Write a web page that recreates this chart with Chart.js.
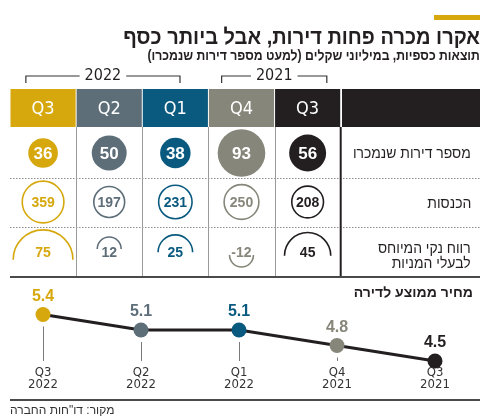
<!DOCTYPE html>
<html lang="he">
<head>
<meta charset="utf-8">
<script src="https://cdn.jsdelivr.net/npm/chart.js@4.4.1/dist/chart.umd.min.js"></script>
<style>
  html, body { margin: 0; padding: 0; background: #fff; }
  #wrap { position: relative; width: 490px; height: 420px; overflow: hidden;
          font-family: "Liberation Sans", "DejaVu Sans", sans-serif; color: #231f20; }
  #chart { position: absolute; left: 0; top: 0; }
  .txt { position: absolute; direction: rtl; white-space: nowrap; transform-origin: right center; }
  #accent { position: absolute; left: 434px; top: 15px; width: 46px; height: 5px; background: #d6a80e; }
  #title { right: 10px; top: 25px; font-size: 22px; line-height: 24px; font-weight: bold; transform: scaleX(0.91); }
  #subtitle { right: 10px; top: 47px; font-size: 14px; line-height: 16px; font-weight: bold; transform: scaleX(0.875); }
  .rowlab { right: 19px; font-size: 15px; line-height: 15px; text-align: right; transform: scaleX(0.93); }
  #pricelab { right: 17px; top: 284px; font-size: 14px; line-height: 16px; font-weight: bold; }
  #source { left: 10px; top: 403px; font-size: 12px; line-height: 14px; color: #333; }
</style>
</head>
<body>
<div id="wrap">
  <canvas id="chart" width="490" height="420"></canvas>
  <div id="accent"></div>
  <div class="txt" id="title">אקרו מכרה פחות דירות, אבל ביותר כסף</div>
  <div class="txt" id="subtitle">תוצאות כספיות, במיליוני שקלים (למעט מספר דירות שנמכרו)</div>
  <div class="txt rowlab" style="top:145px">מספר דירות שנמכרו</div>
  <div class="txt rowlab" style="top:195px">הכנסות</div>
  <div class="txt rowlab" style="top:240px">רווח נקי המיוחס<br>לבעלי המניות</div>
  <div class="txt" id="pricelab">מחיר ממוצע לדירה</div>
  <div class="txt" id="source">מקור: דו"חות החברה</div>
</div>
<script>
// data, newest quarter first (right-to-left reading puts Q3 2021 on the right)
const QUARTERS = ["Q3", "Q2", "Q1", "Q4", "Q3"];
const YEARS = ["2022", "2022", "2022", "2021", "2021"];
const APARTMENTS_SOLD = [36, 50, 38, 93, 56];
const REVENUE = [359, 197, 231, 250, 208];
const NET_PROFIT = [75, 12, 25, -12, 45];
const AVG_PRICE = [5.4, 5.1, 5.1, 4.8, 4.5];
const YEAR_LABELS = ["2022", "2021"];

const COLORS = ["#d6a80e", "#5e6e79", "#0a5a80", "#87867a", "#231f20"];

// layout
const W = 490, H = 420;
const COL_W = 66.14, COL_LEFT = 10;
const HEADER_TOP = 89, HEADER_BOTTOM = 127;
const ROW_APT = 153, ROW_REV = 202, ROW_PROFIT = 252;
const SEP_1 = 178, SEP_2 = 227, TABLE_BOTTOM = 277;
const LABEL_COL_LEFT = 342, RIGHT_EDGE = 480;
const BRACKETS = [[-0.26, 2.07], [2.7, 4.29]];   // in column units
const BRACKET_Y = 76;
const DROP_END = 361;

const NUM_FONT = '"Liberation Sans", "DejaVu Sans", sans-serif';
const NARROW_FONT = '"Liberation Sans Narrow", "DejaVu Sans Condensed", "Liberation Sans", sans-serif';

const aptRadius = (v) => 2.47 * Math.sqrt(v);
const revRadius = (v) => 1.1 * Math.sqrt(v);
const profitRadius = (v) => 3.45 * Math.sqrt(Math.abs(v));

const idx = QUARTERS.map((_, i) => i);
// keep only one tick per column so bar widths come out as full columns
const columnTicks = (scale) => { scale.ticks = idx.map((i) => ({ value: i })); };

const tablePlugin = {
    id: "tableDecor",
    beforeDatasetsDraw(chart) {
        const ctx = chart.ctx;
        const x = chart.scales.x;
        ctx.save();

        // label column header
        ctx.fillStyle = "#231f20";
        ctx.fillRect(LABEL_COL_LEFT, HEADER_TOP, RIGHT_EDGE - LABEL_COL_LEFT, HEADER_BOTTOM - HEADER_TOP);

        // dotted row separators
        ctx.strokeStyle = "#8c8c8c";
        ctx.lineWidth = 1;
        ctx.setLineDash([1.5, 1.5]);
        [SEP_1, SEP_2].forEach((y) => {
            ctx.beginPath();
            ctx.moveTo(COL_LEFT, y + 0.5);
            ctx.lineTo(RIGHT_EDGE, y + 0.5);
            ctx.stroke();
        });
        ctx.setLineDash([]);

        // column dividers
        ctx.strokeStyle = "#9a9a9a";
        for (let i = 0; i < QUARTERS.length - 1; i++) {
            const px = Math.round(x.getPixelForValue(i + 0.5)) + 0.5;
            ctx.beginPath();
            ctx.moveTo(px, HEADER_BOTTOM);
            ctx.lineTo(px, TABLE_BOTTOM);
            ctx.stroke();
        }
        ctx.strokeStyle = "#231f20";
        ctx.lineWidth = 2;
        const dv = x.getPixelForValue(QUARTERS.length - 0.5);
        ctx.beginPath();
        ctx.moveTo(dv, HEADER_BOTTOM);
        ctx.lineTo(dv, TABLE_BOTTOM);
        ctx.stroke();

        // table bottom + page bottom rules
        ctx.strokeStyle = "#4a4a4a";
        ctx.lineWidth = 2;
        [TABLE_BOTTOM, 400].forEach((y) => {
            ctx.beginPath();
            ctx.moveTo(COL_LEFT, y);
            ctx.lineTo(RIGHT_EDGE, y);
            ctx.stroke();
        });

        // year brackets
        ctx.strokeStyle = "#333";
        ctx.lineWidth = 1.2;
        ctx.fillStyle = "#231f20";
        ctx.font = "16px " + NARROW_FONT;
        ctx.textAlign = "center";
        ctx.textBaseline = "middle";
        BRACKETS.forEach(([a, b], k) => {
            const x0 = x.getPixelForValue(a), x1 = x.getPixelForValue(b);
            const mid = (x0 + x1) / 2;
            const half = ctx.measureText(YEAR_LABELS[k]).width / 2 + 5;
            ctx.beginPath();
            ctx.moveTo(x0, BRACKET_Y + 7);
            ctx.lineTo(x0, BRACKET_Y);
            ctx.lineTo(mid - half, BRACKET_Y);
            ctx.moveTo(mid + half, BRACKET_Y);
            ctx.lineTo(x1, BRACKET_Y);
            ctx.lineTo(x1, BRACKET_Y + 7);
            ctx.stroke();
            ctx.fillText(YEAR_LABELS[k], mid, BRACKET_Y);
        });

        // drop lines under the price points
        const pm = chart.getDatasetMeta(4);
        ctx.strokeStyle = "#7a7a7a";
        ctx.lineWidth = 1;
        pm.data.forEach((pt) => {
            const top = pt.y + 12;
            if (DROP_END - top > 2) {
                ctx.beginPath();
                ctx.moveTo(Math.round(pt.x) + 0.5, top);
                ctx.lineTo(Math.round(pt.x) + 0.5, DROP_END);
                ctx.stroke();
            }
        });
        ctx.restore();
    },
    afterDatasetsDraw(chart) {
        const ctx = chart.ctx;
        ctx.save();
        ctx.textAlign = "center";
        ctx.textBaseline = "middle";

        // header quarter labels
        ctx.fillStyle = "#fff";
        ctx.font = "18px " + NARROW_FONT;
        chart.getDatasetMeta(0).data.forEach((bar, i) => {
            ctx.fillText(QUARTERS[i], bar.x, (bar.y + bar.base) / 2 + 1);
        });

        // apartments sold
        ctx.font = "bold 17px " + NUM_FONT;
        chart.getDatasetMeta(1).data.forEach((pt, i) => {
            ctx.fillStyle = "#fff";
            ctx.fillText(String(APARTMENTS_SOLD[i]), pt.x, pt.y + 1);
        });

        // revenue
        ctx.font = "bold 14px " + NUM_FONT;
        chart.getDatasetMeta(2).data.forEach((pt, i) => {
            ctx.fillStyle = COLORS[i];
            ctx.fillText(String(REVENUE[i]), pt.x, pt.y + 1);
        });

        // net profit arcs
        ctx.lineWidth = 1.6;
        chart.getDatasetMeta(3).data.forEach((pt, i) => {
            const v = NET_PROFIT[i];
            const r = profitRadius(v);
            ctx.strokeStyle = COLORS[i];
            ctx.beginPath();
            if (v >= 0) {
                ctx.arc(pt.x, pt.y + (r - 17) * 0.6, r, Math.PI, 2 * Math.PI);
            } else {
                ctx.arc(pt.x, pt.y + 3, r, 0, Math.PI);
            }
            ctx.stroke();
            ctx.fillStyle = COLORS[i];
            ctx.fillText(String(v), pt.x, pt.y + 1);
        });

        // average price labels
        const pm = chart.getDatasetMeta(4);
        ctx.font = "bold 16px " + NUM_FONT;
        pm.data.forEach((pt, i) => {
            ctx.fillStyle = COLORS[i];
            ctx.fillText(AVG_PRICE[i].toFixed(1), pt.x, pt.y - 18);
        });
        ctx.fillStyle = "#333";
        ctx.font = "13px " + NARROW_FONT;
        pm.data.forEach((pt, i) => {
            ctx.fillText(QUARTERS[i], pt.x, 373);
            ctx.fillText(YEARS[i], pt.x, 385);
        });
        ctx.restore();
    }
};

new Chart(document.getElementById("chart"), {
    type: "bar",
    data: {
        datasets: [
            {
                type: "bar",
                xAxisID: "x", yAxisID: "yt",
                data: idx.map((i) => ({ x: i, y: [HEADER_TOP, HEADER_BOTTOM] })),
                backgroundColor: COLORS,
                borderWidth: 0,
                grouped: false,
                barPercentage: 0.985,
                categoryPercentage: 1
            },
            {
                type: "bubble",
                xAxisID: "x", yAxisID: "yt",
                data: idx.map((i) => ({ x: i, y: ROW_APT })),
                radius: (c) => aptRadius(APARTMENTS_SOLD[c.dataIndex]),
                backgroundColor: COLORS,
                borderWidth: 0,
                clip: false
            },
            {
                type: "bubble",
                xAxisID: "x", yAxisID: "yt",
                data: idx.map((i) => ({ x: i, y: ROW_REV })),
                radius: (c) => revRadius(REVENUE[c.dataIndex]),
                backgroundColor: "rgba(0,0,0,0)",
                borderColor: COLORS,
                borderWidth: 1.6,
                clip: false
            },
            {
                type: "bubble",
                xAxisID: "x", yAxisID: "yt",
                data: idx.map((i) => ({ x: i, y: ROW_PROFIT })),
                radius: 0,
                backgroundColor: "rgba(0,0,0,0)",
                borderWidth: 0,
                clip: false
            },
            {
                type: "line",
                xAxisID: "x2", yAxisID: "y2",
                data: AVG_PRICE.map((v, i) => ({ x: i, y: v })),
                borderColor: "#231f20",
                borderWidth: 3,
                tension: 0,
                pointRadius: 7.5,
                pointBackgroundColor: COLORS,
                pointBorderColor: COLORS,
                pointBorderWidth: 0,
                clip: false
            }
        ]
    },
    options: {
        responsive: false,
        animation: false,
        events: [],
        layout: { padding: 0, autoPadding: false },
        plugins: { legend: { display: false }, tooltip: { enabled: false } },
        scales: {
            x: { type: "linear", display: false, offset: false, bounds: "data",
                 min: -0.5 - COL_LEFT / COL_W, max: -0.5 + (W - COL_LEFT) / COL_W,
                 afterBuildTicks: columnTicks },
            yt: { type: "linear", display: false, reverse: true, bounds: "data", min: 0, max: H },
            x2: { type: "linear", display: false, offset: false, bounds: "data",
                  min: -43 / 98, max: (W - 43) / 98 },
            y2: { type: "linear", display: false, bounds: "data", min: 3.358, max: 11.487 }
        }
    },
    plugins: [tablePlugin]
});
</script>
</body>
</html>
